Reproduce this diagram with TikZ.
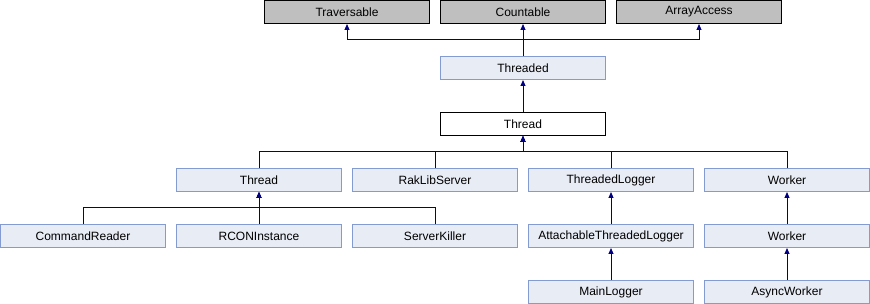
\documentclass[tikz,border=0pt]{standalone}
\usepackage{fontspec}
\setmainfont{Liberation Sans}
\usepackage{tikz}
\usetikzlibrary{arrows.meta,positioning}
\definecolor{linkcolor}{RGB}{0,0,128}
\definecolor{boxfill}{RGB}{232,236,245}
\definecolor{boxborder}{RGB}{132,155,209}
\definecolor{extfill}{RGB}{191,191,191}

\begin{document}
\begin{tikzpicture}[
    x=1pt, y=1pt,
    node distance=32pt and 10pt,
    classbox/.style={rectangle, draw=boxborder, fill=boxfill, line width=1pt, minimum width=165pt, minimum height=23pt, inner sep=0pt, font=\fontsize{12}{14}\selectfont},
    extbox/.style={classbox, draw=black, fill=extfill},
    curbox/.style={classbox, draw=black, fill=white},
    inherit/.style={draw=linkcolor, line width=1pt, -{Triangle[length=6pt,width=5pt]}}
]
\useasboundingbox (0,0) rectangle (870,-304);

% Interfaces
\node[extbox] (countable) at (523,-12) {Countable};
\node[extbox, left=of countable] (traversable) {Traversable};
\node[extbox, right=of countable] (arrayaccess) {ArrayAccess};

% Base classes
\node[classbox, below=of countable] (threaded) {Threaded};
\node[curbox, below=of threaded] (thread) {Thread};

% Direct subclasses
\node[classbox, below=of thread, xshift=-88pt] (rakserver) {RakLibServer};
\node[classbox, left=of rakserver] (pmthread) {Thread};
\node[classbox, right=of rakserver] (tlogger) {ThreadedLogger};
\node[classbox, right=of tlogger] (worker) {Worker};

% Third level
\node[classbox, below=of pmthread] (rcon) {RCONInstance};
\node[classbox, left=of rcon] (cmdreader) {CommandReader};
\node[classbox, right=of rcon] (killer) {ServerKiller};
\node[classbox, below=of tlogger] (atlogger) {AttachableThreadedLogger};
\node[classbox, below=of worker] (pmworker) {Worker};

% Leaves
\node[classbox, below=of atlogger] (mainlogger) {MainLogger};
\node[classbox, below=of pmworker] (asyncworker) {AsyncWorker};

% Inheritance
\draw[inherit] (threaded) -- (countable);
\draw[inherit] (threaded.north) -- ++(0,16) -| (traversable.south);
\draw[inherit] (threaded.north) -- ++(0,16) -| (arrayaccess.south);
\draw[inherit] (thread) -- (threaded);

\draw[inherit] (pmthread.north) -- ++(0,16) -| (thread.south);
\draw[inherit] (rakserver.north) -- ++(0,16) -| (thread.south);
\draw[inherit] (tlogger.north) -- ++(0,16) -| (thread.south);
\draw[inherit] (worker.north) -- ++(0,16) -| (thread.south);

\draw[inherit] (cmdreader.north) -- ++(0,16) -| (pmthread.south);
\draw[inherit] (rcon) -- (pmthread);
\draw[inherit] (killer.north) -- ++(0,16) -| (pmthread.south);

\draw[inherit] (atlogger) -- (tlogger);
\draw[inherit] (pmworker) -- (worker);
\draw[inherit] (mainlogger) -- (atlogger);
\draw[inherit] (asyncworker) -- (pmworker);

\end{tikzpicture}
\end{document}
